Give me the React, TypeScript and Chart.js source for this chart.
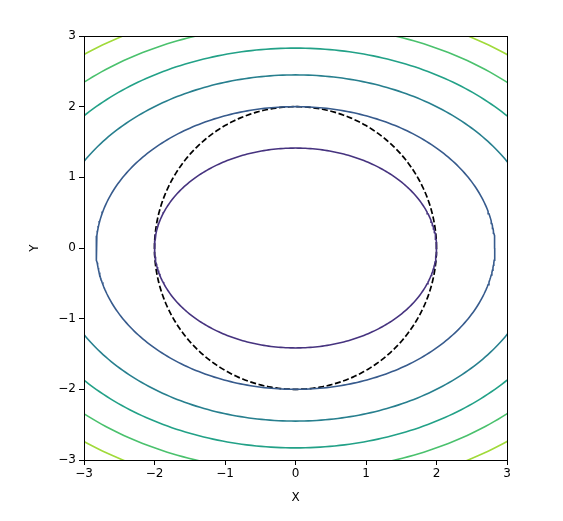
import React, { useEffect, useRef } from "react";
import { Chart, registerables } from "chart.js";

Chart.register(...registerables);

// Contour levels of f(x, y) = x^2/2 + y^2 (matplotlib default levels 0..14)
const levels = [2, 4, 6, 8, 10, 12];
const levelColors = ["#46337f", "#375b8d", "#277f8e", "#22a187", "#4ac16d", "#a0da39"];
const circleRadius = [2];
const tickValues = [-3, -2, -1, 0, 1, 2, 3];
const axisMin = -3;
const axisMax = 3;
const xTitle = "X";
const yTitle = "Y";
const SAMPLES = 360;

function ellipsePoints(a: number, b: number) {
  const pts: { x: number; y: number }[] = [];
  for (let i = 0; i <= SAMPLES; i++) {
    const t = (i / SAMPLES) * Math.PI * 2;
    pts.push({ x: a * Math.cos(t), y: b * Math.sin(t) });
  }
  return pts;
}

const fmt = (v: number) => (v < 0 ? "\u2212" + Math.abs(v) : String(v));

export default function App() {
  const ref = useRef<HTMLCanvasElement | null>(null);

  useEffect(() => {
    document.body.style.margin = "0";
    const canvas = ref.current!;
    const datasets: any[] = levels.map((L, i) => ({
      label: "level " + L,
      data: ellipsePoints(Math.sqrt(2 * L), Math.sqrt(L)),
      borderColor: levelColors[i],
      borderWidth: 1.6,
      showLine: true,
      pointRadius: 0,
      tension: 0,
      fill: false,
    }));
    circleRadius.forEach((r) => {
      datasets.push({
        label: "circle",
        data: ellipsePoints(r, r),
        borderColor: "#000000",
        borderWidth: 1.7,
        borderDash: [6, 2.6],
        showLine: true,
        pointRadius: 0,
        tension: 0,
        fill: false,
      });
    });

    const tickFont = { family: "DejaVu Sans", size: 12 };

    const frame = {
      id: "frame",
      afterDatasetsDraw(chart: any) {
        const { ctx, chartArea } = chart;
        ctx.save();
        ctx.strokeStyle = "#000";
        ctx.lineWidth = 1;
        ctx.strokeRect(
          Math.round(chartArea.left) + 0.5,
          Math.round(chartArea.top) + 0.5,
          Math.round(chartArea.right - chartArea.left),
          Math.round(chartArea.bottom - chartArea.top)
        );
        ctx.fillStyle = "#000";
        ctx.font = "12px 'DejaVu Sans'";
        ctx.textAlign = "center";
        ctx.textBaseline = "middle";
        ctx.fillText(xTitle, (chartArea.left + chartArea.right) / 2, chartArea.bottom + 38);
        ctx.translate(chartArea.left - 49, (chartArea.top + chartArea.bottom) / 2);
        ctx.rotate(-Math.PI / 2);
        ctx.fillText(yTitle, 0, 0);
        ctx.restore();
      },
    };

    const chart = new Chart(canvas, {
      type: "scatter",
      data: { datasets },
      options: {
        animation: false,
        responsive: false,
        maintainAspectRatio: false,
        layout: { padding: { top: 36, right: 56, left: 0, bottom: 0 } },
        plugins: { legend: { display: false }, tooltip: { enabled: false } },
        scales: {
          x: {
            type: "linear",
            min: axisMin,
            max: axisMax,
            afterBuildTicks: (scale: any) => {
              scale.ticks = tickValues.map((v) => ({ value: v }));
            },
            afterFit: (scale: any) => {
              scale.height = 61;
            },
            ticks: {
              color: "#000",
              font: tickFont,
              padding: 2,
              callback: (v: any) => fmt(Number(v)),
              maxRotation: 0,
            },
            grid: { drawOnChartArea: false, tickLength: 5, color: "#000" },
            border: { display: false },
          },
          y: {
            type: "linear",
            min: axisMin,
            max: axisMax,
            afterBuildTicks: (scale: any) => {
              scale.ticks = tickValues.map((v) => ({ value: v }));
            },
            afterFit: (scale: any) => {
              scale.width = 84;
            },
            ticks: {
              color: "#000",
              font: tickFont,
              padding: 3,
              callback: (v: any) => fmt(Number(v)),
            },
            grid: { drawOnChartArea: false, tickLength: 5, color: "#000" },
            border: { display: false },
          },
        },
      },
      plugins: [frame],
    } as any);
    return () => chart.destroy();
  }, []);

  return (
    <div style={{ position: "relative", width: 563, height: 521 }}>
      <canvas ref={ref} width={563} height={521} style={{ width: 563, height: 521 }} />
    </div>
  );
}
